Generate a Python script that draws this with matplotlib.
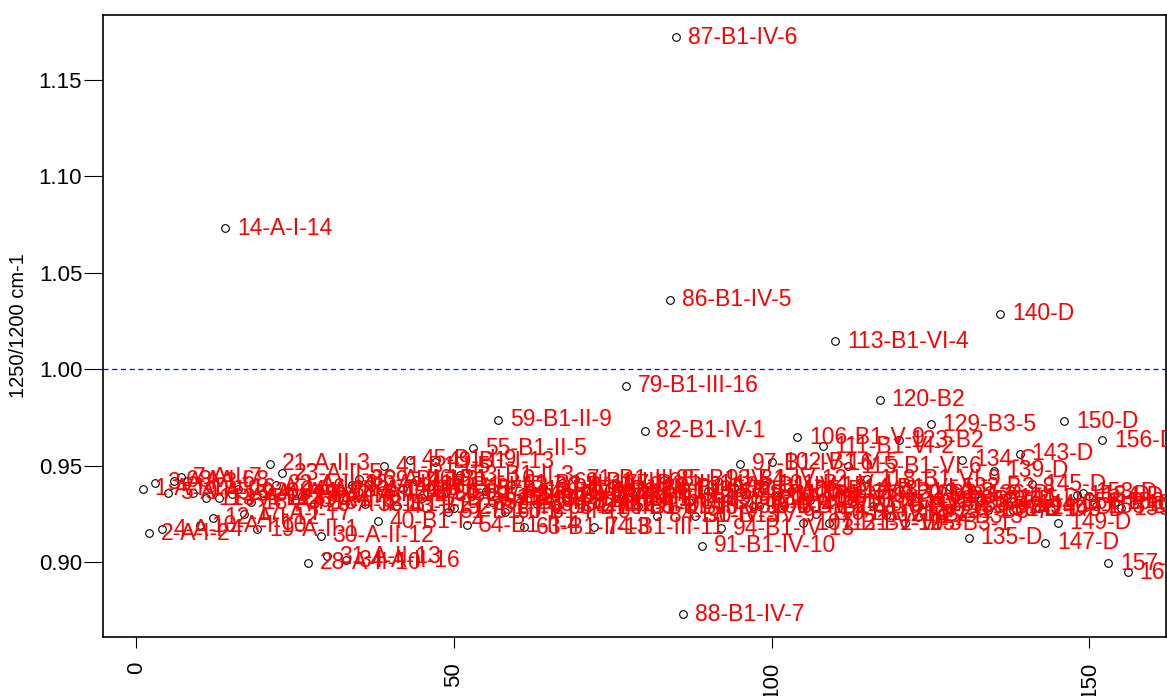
import matplotlib
matplotlib.use("Agg")
import matplotlib.pyplot as plt

# ---- data -------------------------------------------------------------
# ratio 1250/1200 cm-1 for each sample, in plotting order (index 1..157)
ratio = [
    0.938, 0.915, 0.941, 0.917, 0.936, 0.942, 0.944, 0.942, 0.936, 0.919,
    0.933, 0.923, 0.933, 1.073, 0.935, 0.938, 0.925, 0.931, 0.917, 0.936,
    0.951, 0.940, 0.946, 0.937, 0.932, 0.934, 0.8995, 0.930, 0.9135, 0.903,
    0.935, 0.937, 0.901, 0.940, 0.943, 0.930, 0.942, 0.921, 0.9497, 0.936,
    0.929, 0.938, 0.953, 0.9425, 0.933, 0.939, 0.952, 0.935, 0.926, 0.928,
    0.945, 0.919, 0.959, 0.934, 0.937, 0.931, 0.9736, 0.926, 0.940, 0.933,
    0.918, 0.936, 0.930, 0.939, 0.932, 0.928, 0.941, 0.935, 0.943, 0.930,
    0.937, 0.918, 0.934, 0.928, 0.940, 0.933, 0.9912, 0.936, 0.929, 0.968,
    0.938, 0.924, 0.9425, 1.0358, 1.172, 0.873, 0.931, 0.924, 0.9085, 0.937,
    0.9425, 0.9175, 0.933, 0.939, 0.951, 0.935, 0.929, 0.929, 0.940, 0.9516,
    0.934, 0.929, 0.937, 0.9646, 0.920, 0.932, 0.925, 0.960, 0.920, 1.0145,
    0.938, 0.9497, 0.930, 0.936, 0.943, 0.929, 0.984, 0.9244, 0.935, 0.963,
    0.920, 0.934, 0.9235, 0.930, 0.9713, 0.932, 0.926, 0.9387, 0.929, 0.953,
    0.9126, 0.935, 0.932, 0.927, 0.9473, 1.0285, 0.933, 0.927, 0.956, 0.930,
    0.9404, 0.928, 0.910, 0.927, 0.9204, 0.973, 0.931, 0.9347, 0.936, 0.934,
    0.929, 0.963, 0.8993, 0.931, 0.9278, 0.8946, 0.930,
]

# sample numbers (a few numbers are missing from the series)
missing_ids = [25, 37, 109, 124]
sample_ids = [i for i in range(1, 162) if i not in missing_ids]

# sample groups: (prefix, first id, last id, numbered within group)
groups = [
    ("A-I", 1, 18, True),
    ("A-II", 19, 36, True),
    ("B1-I", 37, 50, True),
    ("B1-II", 51, 63, True),
    ("B1-III", 64, 81, True),
    ("B1-IV", 82, 97, True),
    ("B1-V", 98, 109, True),
    ("B1-VI", 110, 118, True),
    ("B2", 119, 124, False),
    ("B3", 125, 133, True),
    ("C", 134, 134, False),
    ("D", 135, 161, False),
]

reference_level = 1.0
y_label = "1250/1200 cm-1"
x_ticks = [0, 50, 100, 150]
y_ticks = [0.90, 0.95, 1.00, 1.05, 1.10, 1.15]


def label_for(sid):
    for name, lo, hi, numbered in groups:
        if lo <= sid <= hi:
            if numbered:
                return f"{sid}-{name}-{sid - lo + 1}"
            return f"{sid}-{name}"
    return str(sid)


labels = [label_for(s) for s in sample_ids]
index = list(range(1, len(ratio) + 1))

# ---- plot -------------------------------------------------------------
plt.rcParams["font.family"] = ["Liberation Sans", "DejaVu Sans"]
fig = plt.figure(figsize=(11.67, 6.96), dpi=100)
ax = fig.add_axes([103 / 1167, 59 / 696, 1063 / 1167, 622 / 696])

ax.plot(index, ratio, linestyle="none", marker="o", markersize=5.5,
        markerfacecolor="none", markeredgecolor="black", markeredgewidth=0.8,
        zorder=2)

for xi, yi, lab in zip(index, ratio, labels):
    ax.annotate(lab, (xi, yi), xytext=(8.5, 0), textcoords="offset points",
                ha="left", va="center", color="red", fontsize=16.5,
                annotation_clip=True, clip_on=True, zorder=3)

ax.axhline(reference_level, color="blue", linestyle=(0, (4, 3)),
           linewidth=0.9, zorder=1)

ax.set_xlim(-5.24, 162.05)
ax.set_ylim(0.86114, 1.18342)

ax.set_xticks(x_ticks)
ax.set_xticklabels([str(t) for t in x_ticks], rotation=90, va="top",
                   ha="center", fontsize=16)
ax.set_yticks(y_ticks)
ax.set_yticklabels([f"{t:.2f}" for t in y_ticks], fontsize=16)
ax.tick_params(axis="y", length=14, width=0.8, pad=1)
ax.tick_params(axis="x", length=8, width=0.8, pad=10)

for sp in ax.spines.values():
    sp.set_linewidth(1.2)
    sp.set_color("black")

ax.set_ylabel(y_label, fontsize=14.5)
ax.yaxis.set_label_coords(-0.071, 0.5)

fig.savefig("out.png", dpi=100)
